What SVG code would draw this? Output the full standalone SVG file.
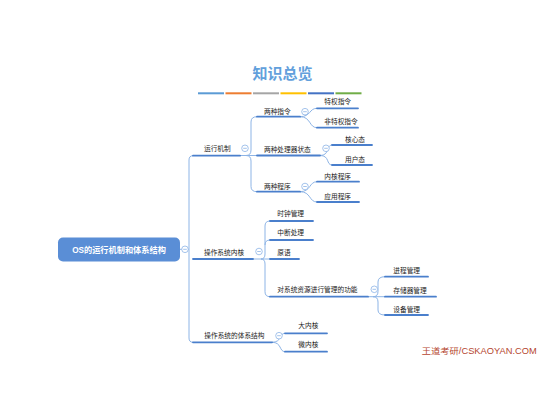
<svg xmlns="http://www.w3.org/2000/svg" width="548" height="411" viewBox="0 0 548 411">
<style>
.t{font-family:"Liberation Sans","Noto Sans CJK SC",sans-serif;font-size:6.7px;fill:#222}
.ul{stroke:#4a7fcc;stroke-width:1.8;fill:none;stroke-linecap:round}
.cn{stroke:#8db4e6;stroke-width:1;fill:none}
.cc{fill:#fff;stroke:#8db4e6;stroke-width:0.8}
.cm{stroke:#8db4e6;stroke-width:0.8}
</style>
<rect width="548" height="411" fill="#fff"/>
<g id="title">
<text x="282.5" y="79.3" text-anchor="middle" style="font-family:'Noto Sans CJK SC',sans-serif;font-size:15px;font-weight:bold;fill:#62a0dc">知识总览</text>
<rect x="198" y="92.3" width="26" height="2" fill="#5b9bd5"/>
<rect x="225.5" y="92.3" width="26" height="2" fill="#ed7d31"/>
<rect x="253" y="92.3" width="26" height="2" fill="#a5a5a5"/>
<rect x="280.5" y="92.3" width="26" height="2" fill="#ffc000"/>
<rect x="308" y="92.3" width="26" height="2" fill="#4472c4"/>
<rect x="335.5" y="92.3" width="26" height="2" fill="#70ad47"/>
</g>
<g id="connectors">
<path class="cn" d="M180 249.3 L189 249.3 M193 155.7 Q189 155.7 189 160 L189 338 Q189 342.3 193 342.3"/>
<path class="cn" d="M240 155.5 L257 155.5 M246 155.5 Q251 155.5 251 150 L251 122 Q251 116.7 257 116.7 M246 155.5 Q251 155.5 251 161 L251 186.5 Q251 191.7 257 191.7"/>
<path class="cn" d="M300 116.7 C311 116.7 309 108.3 317 108.3 M300 116.7 C311 116.7 309 127.7 317 127.7"/>
<path class="cn" d="M320 155.5 C330 155.5 326 145 332 145 M320 155.5 C330 155.5 326 165 332 165"/>
<path class="cn" d="M300 191.7 C311 191.7 309 181.7 317 181.7 M300 191.7 C311 191.7 309 202 317 202"/>
<path class="cn" d="M253 259 L270 259 M261 259 Q265 259 265 254 L265 226 Q265 221 270 221 M265 245 Q265 240 270 240 M261 259 Q265 259 265 264 L265 291.7 Q265 296.7 270 296.7"/>
<path class="cn" d="M368 296.7 L385 296.7 M373 296.7 Q378 296.7 378 291.5 L378 282 Q378 276.7 385 276.7 M373 296.7 Q378 296.7 378 302 L378 310 Q378 315 385 315"/>
<path class="cn" d="M272 342.3 C282 342.3 279 333.3 285 333.3 M272 342.3 C282 342.3 279 351.7 285 351.7"/>
</g>
<g id="root">
<rect x="58" y="237.5" width="122" height="24" rx="5" fill="#5a8ed6"/>
<text x="119" y="252.5" text-anchor="middle" style="font-family:'Liberation Sans','Noto Sans CJK SC',sans-serif;font-size:8.2px;font-weight:bold;fill:#fff">OS的运行机制和体系结构</text>
<circle class="cc" cx="185" cy="249.3" r="3.3"/><line class="cm" x1="183.2" y1="249.3" x2="186.8" y2="249.3"/>
</g>
<g id="n-yunxing">
<line class="ul" x1="193" y1="155.7" x2="240" y2="155.7"/>
<text class="t" x="204" y="150.9">运行机制</text>
<circle class="cc" cx="245" cy="148.3" r="3.3"/><line class="cm" x1="243.2" y1="148.3" x2="246.8" y2="148.3"/>
</g>
<g id="n-zhiling">
<line class="ul" x1="257" y1="116.7" x2="300" y2="116.7"/>
<text class="t" x="264" y="114.1">两种指令</text>
<circle class="cc" cx="305" cy="111.7" r="3.3"/><line class="cm" x1="303.2" y1="111.7" x2="306.8" y2="111.7"/>
</g>
<g id="n-tequan">
<line class="ul" x1="317" y1="108.3" x2="358" y2="108.3"/>
<text class="t" x="324.3" y="104.1">特权指令</text>
</g>
<g id="n-feitequan">
<line class="ul" x1="317" y1="127.7" x2="358" y2="127.7"/>
<text class="t" x="324.3" y="124.1">非特权指令</text>
</g>
<g id="n-zhuangtai">
<line class="ul" x1="257" y1="155.5" x2="320" y2="155.5"/>
<text class="t" x="264" y="151.7">两种处理器状态</text>
<circle class="cc" cx="326" cy="148.3" r="3.3"/><line class="cm" x1="324.2" y1="148.3" x2="327.8" y2="148.3"/>
</g>
<g id="n-hexin">
<line class="ul" x1="332" y1="145" x2="372" y2="145"/>
<text class="t" x="345" y="142.4">核心态</text>
</g>
<g id="n-yonghu">
<line class="ul" x1="332" y1="165" x2="372" y2="165"/>
<text class="t" x="345" y="161.9">用户态</text>
</g>
<g id="n-chengxu">
<line class="ul" x1="257" y1="191.7" x2="300" y2="191.7"/>
<text class="t" x="264" y="188.9">两种程序</text>
<circle class="cc" cx="305" cy="186.5" r="3.3"/><line class="cm" x1="303.2" y1="186.5" x2="306.8" y2="186.5"/>
</g>
<g id="n-neihechengxu">
<line class="ul" x1="317" y1="181.7" x2="359" y2="181.7"/>
<text class="t" x="324.3" y="179.4">内核程序</text>
</g>
<g id="n-yingyong">
<line class="ul" x1="317" y1="202" x2="359" y2="202"/>
<text class="t" x="324.3" y="198.9">应用程序</text>
</g>
<g id="n-neihe">
<line class="ul" x1="193" y1="259" x2="253" y2="259"/>
<text class="t" x="204" y="254.7">操作系统内核</text>
<circle class="cc" cx="259" cy="251.5" r="3.3"/><line class="cm" x1="257.2" y1="251.5" x2="260.8" y2="251.5"/>
</g>
<g id="n-shizhong">
<line class="ul" x1="270" y1="221" x2="313" y2="221"/>
<text class="t" x="277.3" y="216.4">时钟管理</text>
</g>
<g id="n-zhongduan">
<line class="ul" x1="270" y1="240" x2="313" y2="240"/>
<text class="t" x="277.3" y="235.4">中断处理</text>
</g>
<g id="n-yuanyu">
<line class="ul" x1="270" y1="259" x2="299" y2="259"/>
<text class="t" x="277.3" y="254.7">原语</text>
</g>
<g id="n-ziyuan">
<line class="ul" x1="270" y1="296.7" x2="368" y2="296.7"/>
<text class="t" x="277.3" y="291.7">对系统资源进行管理的功能</text>
<circle class="cc" cx="374.3" cy="289.3" r="3.3"/><line class="cm" x1="372.5" y1="289.3" x2="376.1" y2="289.3"/>
</g>
<g id="n-jincheng">
<line class="ul" x1="385" y1="276.7" x2="428" y2="276.7"/>
<text class="t" x="393.3" y="273.1">进程管理</text>
</g>
<g id="n-cunchu">
<line class="ul" x1="385" y1="296.7" x2="436" y2="296.7"/>
<text class="t" x="393.3" y="293.1">存储器管理</text>
</g>
<g id="n-shebei">
<line class="ul" x1="385" y1="315" x2="428" y2="315"/>
<text class="t" x="393.3" y="311.7">设备管理</text>
</g>
<g id="n-tixi">
<line class="ul" x1="193" y1="342.3" x2="272" y2="342.3"/>
<text class="t" x="204.3" y="338.1">操作系统的体系结构</text>
<circle class="cc" cx="279" cy="335.7" r="3.3"/><line class="cm" x1="277.2" y1="335.7" x2="280.8" y2="335.7"/>
</g>
<g id="n-danei">
<line class="ul" x1="285" y1="333.3" x2="327" y2="333.3"/>
<text class="t" x="298.3" y="328.4">大内核</text>
</g>
<g id="n-weinei">
<line class="ul" x1="285" y1="351.7" x2="327" y2="351.7"/>
<text class="t" x="298.3" y="346.7">微内核</text>
</g>
<g id="watermark">
<text x="421.7" y="353.6" textLength="115" lengthAdjust="spacingAndGlyphs" style="font-family:'Liberation Sans','Noto Sans CJK SC',sans-serif;font-size:8.3px;fill:#b5462f">王道考研/CSKAOYAN.COM</text>
</g>
</svg>
